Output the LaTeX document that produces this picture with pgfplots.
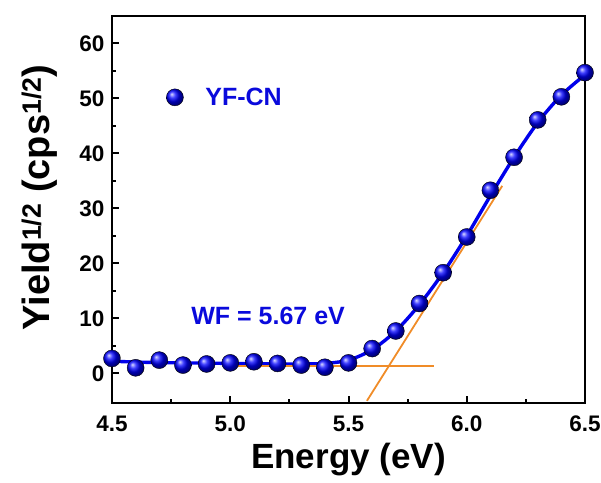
\documentclass[border=0pt]{standalone}
\usepackage{pgfplots}
\pgfplotsset{compat=1.18}
\usepackage{fontspec}
\setmainfont{Liberation Sans}
\definecolor{ptblue}{RGB}{0,0,235}
\definecolor{txtblue}{RGB}{10,10,220}
\definecolor{fitorange}{RGB}{240,140,40}
\begin{document}
\begin{tikzpicture}
\begin{axis}[
  scale only axis,
  width=473pt, height=387pt,
  xmin=4.5, xmax=6.5, ymin=-5.4, ymax=65,
  xtick={4.5,5.0,5.5,6.0,6.5},
  xticklabels={4.5,5.0,5.5,6.0,6.5},
  ytick={0,10,20,30,40,50,60},
  minor x tick num=1, minor y tick num=1,
  tick align=inside,
  xtick pos=bottom, ytick pos=left,
  major tick length=7pt, minor tick length=4pt,
  every tick/.style={black, line width=2pt},
  axis line style={line width=2.5pt},
  /pgf/number format/assume math mode=true,
  ticklabel style={font=\fontsize{22.5}{26}\selectfont\bfseries},
  xticklabel style={yshift=-9pt},
  yticklabel style={xshift=-4pt},
  clip=false,
]
% fitted smooth curve
\addplot[ptblue, line width=3.4pt, smooth, tension=0.5] coordinates {
(4.5,2.2) (4.6,2.05) (4.7,1.95) (4.8,1.9) (4.9,1.85) (5.0,1.8) (5.1,1.75) (5.2,1.7) (5.3,1.7) (5.4,1.8)
(5.5,2.4) (5.6,4.3) (5.7,7.7) (5.8,12.5) (5.9,18.3) (6.0,25.0) (6.1,32.3) (6.2,39.3) (6.3,45.6) (6.4,50.6) (6.5,54.3)
};
% orange tangent lines
\addplot[fitorange, line width=1.8pt] coordinates {(5.0,1.3) (5.86,1.3)};
\addplot[fitorange, line width=1.8pt] coordinates {(5.578,-5.0) (6.15,34.1)};
% data points
\addplot[only marks, mark=ball, mark size=8.5pt, ball color=blue] coordinates {
(4.5,2.7) (4.6,1.0) (4.7,2.4) (4.8,1.5) (4.9,1.7) (5.0,1.9) (5.1,2.1) (5.2,1.8) (5.3,1.5) (5.4,1.1)
(5.5,1.9) (5.6,4.5) (5.7,7.7) (5.8,12.7) (5.9,18.3) (6.0,24.8) (6.1,33.3) (6.2,39.3) (6.3,46.1) (6.4,50.3) (6.5,54.7)
};
% legend entry
\addplot[only marks, mark=ball, mark size=8.5pt, ball color=blue] coordinates {(4.766,50.2)};
\node[anchor=west, text=txtblue, font=\fontsize{25}{28}\selectfont\bfseries] at (axis cs:4.88,50.2) {YF-CN};
\node[text=txtblue, font=\fontsize{25}{28}\selectfont\bfseries] at (axis cs:5.16,10.4) {WF = 5.67 eV};
% axis labels
\node[anchor=base, font=\fontsize{35}{40}\selectfont\bfseries] at ([yshift=-65pt]rel axis cs:0.5,0) {Energy (eV)};
\node[anchor=base, rotate=90, font=\fontsize{38}{42}\selectfont\bfseries] at ([xshift=-62pt,yshift=12pt]rel axis cs:0,0.5) {Yield\textsuperscript{1/2} (cps\textsuperscript{1/2})};
\coordinate (BL) at (rel axis cs:0,0);
\coordinate (TR) at (rel axis cs:1,1);
\end{axis}
\pgfresetboundingbox
\path[use as bounding box] ([xshift=-112pt,yshift=-80pt]BL) rectangle ([xshift=16pt,yshift=16pt]TR);
\end{tikzpicture}
\end{document}
